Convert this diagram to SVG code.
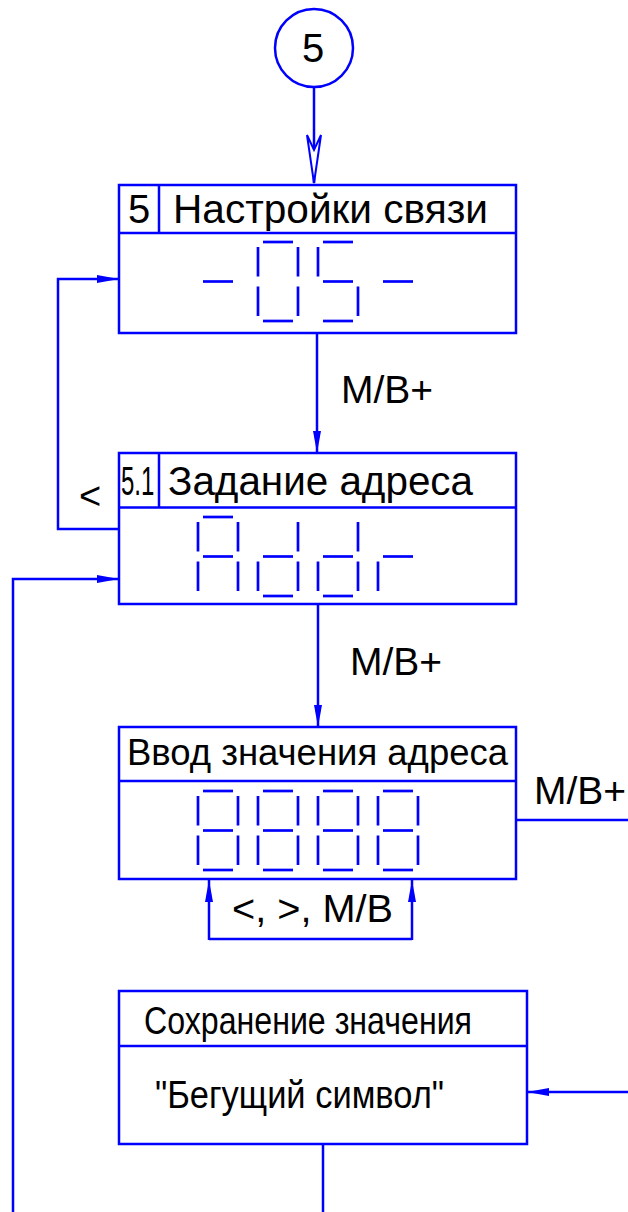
<svg xmlns="http://www.w3.org/2000/svg" xmlns:xlink="http://www.w3.org/1999/xlink" width="628" height="1212" viewBox="0 0 628 1212">
<style>
.box{fill:#fff;stroke:#0000ff;stroke-width:2.5}
.ln{fill:none;stroke:#0000ff;stroke-width:2.5}
.seg{fill:none;stroke:#0000ff;stroke-width:2.7}
.t{font-family:"Liberation Sans",Arial,sans-serif;fill:#000}
</style>
<defs>
<marker id="ah" markerUnits="userSpaceOnUse" markerWidth="24" markerHeight="10" refX="22" refY="4" orient="auto">
<path d="M0,0 L22,4 L0,8 Z" fill="#0000ff"/>
</marker>
<path id="sa" class="seg" d="M5,0 H35"/>
<path id="sb" class="seg" d="M40,5 V34.5"/>
<path id="sc" class="seg" d="M40,44.5 V74"/>
<path id="sd" class="seg" d="M5,79 H35"/>
<path id="se" class="seg" d="M0,44.5 V74"/>
<path id="sf" class="seg" d="M0,5 V34.5"/>
<path id="sg" class="seg" d="M5,39.5 H35"/>
</defs>
<rect width="628" height="1212" fill="#fff"/>

<g id="connectors">
<path class="ln" d="M314,87 V183"/>
<path d="M307,135 L314,183 L321,135 L314,150 Z" fill="#fff" stroke="#0000ff" stroke-width="2"/>
<path class="ln" d="M317,333 V453" marker-end="url(#ah)"/>
<path class="ln" d="M119,529 H58 V279 H119" marker-end="url(#ah)"/>
<path class="ln" d="M318,604 V727" marker-end="url(#ah)"/>
<path class="ln" d="M13,1212 V579 H119" stroke-width="2" marker-end="url(#ah)"/>
<path class="ln" d="M209,939 H412"/>
<path class="ln" d="M209,940 V880" marker-end="url(#ah)"/>
<path class="ln" d="M412,940 V880" marker-end="url(#ah)"/>
<path class="ln" d="M516,820 H628"/>
<path class="ln" d="M628,1092 H527" marker-end="url(#ah)"/>
<path class="ln" d="M323,1144 V1212"/>
<text class="t" x="341" y="403" font-size="39">M/B+</text>
<text class="t" x="350" y="675" font-size="39">M/B+</text>
<text class="t" x="534" y="804" font-size="39">M/B+</text>
<text class="t" x="79" y="509" font-size="38">&lt;</text>
<text class="t" x="232" y="922" font-size="39" textLength="161" lengthAdjust="spacingAndGlyphs">&lt;, &gt;, M/B</text>
</g>

<g id="node-start">
<circle cx="314" cy="48" r="39" fill="#fff" stroke="#0000ff" stroke-width="2.5"/>
<text class="t" x="313" y="62" font-size="40" text-anchor="middle">5</text>
</g>

<g id="node-5">
<rect class="box" x="119" y="185" width="397" height="148"/>
<path class="ln" d="M119,233 H516 M159,185 V233"/>
<text class="t" x="139" y="223" font-size="40" text-anchor="middle">5</text>
<text class="t" x="173" y="223" font-size="40" textLength="315" lengthAdjust="spacingAndGlyphs">Настройки связи</text>
<use xlink:href="#sg" x="198" y="242"/>
<use xlink:href="#sa" x="258" y="242"/><use xlink:href="#sb" x="258" y="242"/><use xlink:href="#sc" x="258" y="242"/><use xlink:href="#sd" x="258" y="242"/><use xlink:href="#se" x="258" y="242"/><use xlink:href="#sf" x="258" y="242"/>
<use xlink:href="#sa" x="318" y="242"/><use xlink:href="#sf" x="318" y="242"/><use xlink:href="#sg" x="318" y="242"/><use xlink:href="#sc" x="318" y="242"/><use xlink:href="#sd" x="318" y="242"/>
<use xlink:href="#sg" x="378" y="242"/>
</g>

<g id="node-5-1">
<rect class="box" x="119" y="453" width="397" height="151"/>
<path class="ln" d="M119,507.5 H516 M159,453 V507.5"/>
<text class="t" x="201.5" y="495" font-size="40" transform="scale(0.6,1)">5.1</text>
<text class="t" x="168" y="495" font-size="40" textLength="305" lengthAdjust="spacingAndGlyphs">Задание адреса</text>
<use xlink:href="#sa" x="198" y="517"/><use xlink:href="#sb" x="198" y="517"/><use xlink:href="#sc" x="198" y="517"/><use xlink:href="#se" x="198" y="517"/><use xlink:href="#sf" x="198" y="517"/><use xlink:href="#sg" x="198" y="517"/>
<use xlink:href="#sb" x="258" y="517"/><use xlink:href="#sc" x="258" y="517"/><use xlink:href="#sd" x="258" y="517"/><use xlink:href="#se" x="258" y="517"/><use xlink:href="#sg" x="258" y="517"/>
<use xlink:href="#sb" x="318" y="517"/><use xlink:href="#sc" x="318" y="517"/><use xlink:href="#sd" x="318" y="517"/><use xlink:href="#se" x="318" y="517"/><use xlink:href="#sg" x="318" y="517"/>
<use xlink:href="#se" x="378" y="517"/><use xlink:href="#sg" x="378" y="517"/>
</g>

<g id="node-input">
<rect class="box" x="119" y="727" width="397" height="152"/>
<path class="ln" d="M119,781 H516"/>
<text class="t" x="127" y="765" font-size="36" textLength="381" lengthAdjust="spacingAndGlyphs">Ввод значения адреса</text>
<g id="d8">
<use xlink:href="#sa" x="198" y="791"/><use xlink:href="#sb" x="198" y="791"/><use xlink:href="#sc" x="198" y="791"/><use xlink:href="#sd" x="198" y="791"/><use xlink:href="#se" x="198" y="791"/><use xlink:href="#sf" x="198" y="791"/><use xlink:href="#sg" x="198" y="791"/>
</g>
<use xlink:href="#d8" x="60"/>
<use xlink:href="#d8" x="120"/>
<use xlink:href="#d8" x="180"/>
</g>

<g id="node-save">
<rect class="box" x="119" y="991" width="408" height="153"/>
<path class="ln" d="M119,1046 H527"/>
<text class="t" x="144" y="1034" font-size="39" textLength="328" lengthAdjust="spacingAndGlyphs">Сохранение значения</text>
<text class="t" x="155" y="1108" font-size="39" textLength="289" lengthAdjust="spacingAndGlyphs">"Бегущий символ"</text>
</g>
</svg>
